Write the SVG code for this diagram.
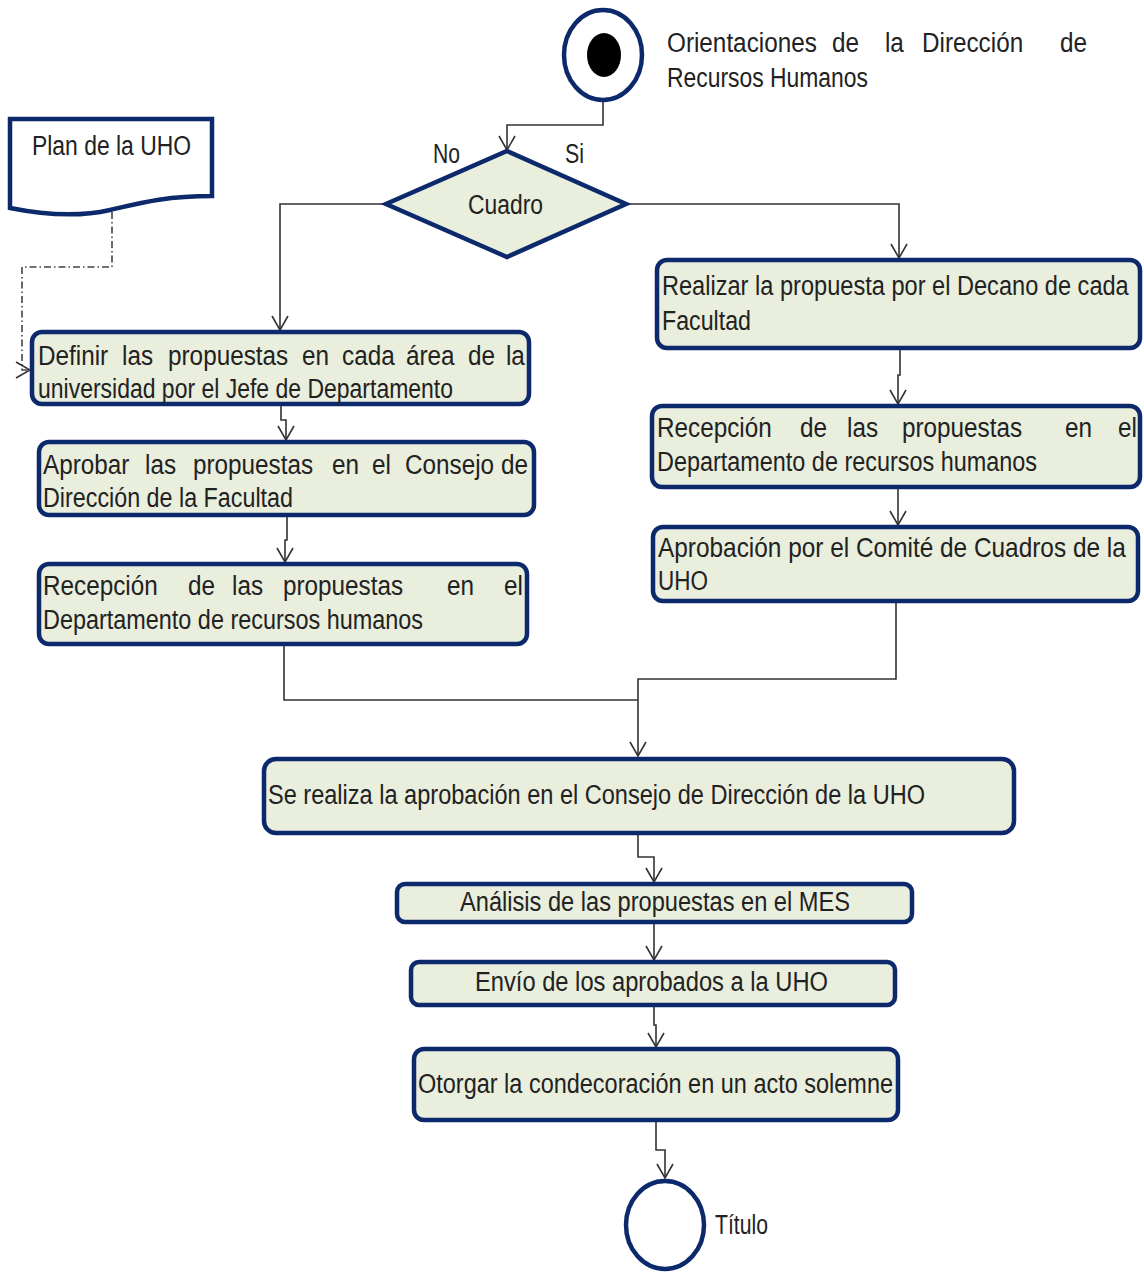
<svg xmlns="http://www.w3.org/2000/svg" width="1144" height="1272" viewBox="0 0 1144 1272">
<defs>
<style>
.box{fill:#e9eedd;stroke:#0c2a6b;stroke-width:4.5}
.term{fill:#ffffff;stroke:#0c2a6b;stroke-width:4.5}
.t{font-family:"Liberation Sans",Arial,sans-serif;font-size:27px;fill:#222222}
.c{fill:none;stroke:#333333;stroke-width:1.6}
.dd{fill:none;stroke:#444444;stroke-width:1.6;stroke-dasharray:7 3 1.5 3}
</style>
<marker id="arr" markerUnits="userSpaceOnUse" viewBox="0 0 16 18" markerWidth="16" markerHeight="18" refX="15" refY="9" orient="auto">
<path d="M1,1 L15,9 L1,17" fill="none" stroke="#333333" stroke-width="1.6"/>
</marker>
</defs>
<rect width="1144" height="1272" fill="#ffffff"/>

<g id="connectors">
<path class="c" d="M603,102 V125 H507 V150" marker-end="url(#arr)"/>
<path class="c" d="M386,204 H280 V330" marker-end="url(#arr)"/>
<path class="c" d="M626,204 H899 V258" marker-end="url(#arr)"/>
<path class="c" d="M281,406 V420 H286 V440" marker-end="url(#arr)"/>
<path class="c" d="M287,517 V540 H285 V562" marker-end="url(#arr)"/>
<path class="c" d="M900,349 V375 H898 V404" marker-end="url(#arr)"/>
<path class="c" d="M898,488 V525" marker-end="url(#arr)"/>
<path class="c" d="M896,602 V679 H638 V756" marker-end="url(#arr)"/>
<path class="c" d="M284,645 V700 H638"/>
<path class="c" d="M638,834 V857 H654 V882" marker-end="url(#arr)"/>
<path class="c" d="M654,923 V960" marker-end="url(#arr)"/>
<path class="c" d="M654,1006 V1025 H656 V1047" marker-end="url(#arr)"/>
<path class="c" d="M656,1121 V1150 H665 V1178" marker-end="url(#arr)"/>
<path class="dd" d="M112,212 V267 H22 V370 H30" marker-end="url(#arr)"/>
</g>

<g id="start">
<ellipse class="term" cx="603" cy="55" rx="39" ry="45"/>
<ellipse cx="604" cy="55" rx="17" ry="22" fill="#000000"/>
<text class="t" transform="scale(0.9 1)" y="52"><tspan x="741.1">Orientaciones</tspan><tspan x="924.4">de</tspan><tspan x="983.3">la</tspan><tspan x="1024.4">Dirección</tspan><tspan x="1177.8">de</tspan></text>
<text class="t" x="667" y="87" textLength="201" lengthAdjust="spacingAndGlyphs">Recursos Humanos</text>
</g>

<g id="plan">
<path class="term" d="M10,119 H212 V196 C165,196 140,203 110,210 C75,218 40,214 10,208 Z"/>
<text class="t" x="32" y="155" textLength="159" lengthAdjust="spacingAndGlyphs">Plan de la UHO</text>
</g>

<g id="cuadro">
<polygon class="box" points="507,151 626,204 507,257 386,204"/>
<text class="t" x="468" y="214" textLength="75" lengthAdjust="spacingAndGlyphs">Cuadro</text>
<text class="t" x="433" y="163" textLength="27" lengthAdjust="spacingAndGlyphs">No</text>
<text class="t" x="565" y="163" textLength="19" lengthAdjust="spacingAndGlyphs">Si</text>
</g>

<g id="definir">
<rect class="box" x="32" y="332" width="497" height="72" rx="10"/>
<text class="t" transform="scale(0.9 1)" y="365"><tspan x="42.2">Definir</tspan><tspan x="135.6">las</tspan><tspan x="186.7">propuestas</tspan><tspan x="335.6">en</tspan><tspan x="380.0">cada</tspan><tspan x="451.1">área</tspan><tspan x="520.0">de</tspan><tspan x="562.2">la</tspan></text>
<text class="t" x="38" y="398" textLength="415" lengthAdjust="spacingAndGlyphs">universidad por el Jefe de Departamento</text>
</g>

<g id="aprobar">
<rect class="box" x="39" y="442" width="495" height="73" rx="10"/>
<text class="t" transform="scale(0.9 1)" y="474"><tspan x="47.8">Aprobar</tspan><tspan x="161.1">las</tspan><tspan x="214.4">propuestas</tspan><tspan x="368.9">en</tspan><tspan x="413.3">el</tspan><tspan x="450.0">Consejo</tspan><tspan x="556.7">de</tspan></text>
<text class="t" x="43" y="507" textLength="250" lengthAdjust="spacingAndGlyphs">Dirección de la Facultad</text>
</g>

<g id="recepcion-izq">
<rect class="box" x="39" y="564" width="488" height="80" rx="10"/>
<text class="t" transform="scale(0.9 1)" y="595"><tspan x="47.8">Recepción</tspan><tspan x="208.9">de</tspan><tspan x="257.8">las</tspan><tspan x="314.4">propuestas</tspan><tspan x="496.7">en</tspan><tspan x="560.0">el</tspan></text>
<text class="t" x="43" y="629" textLength="380" lengthAdjust="spacingAndGlyphs">Departamento de recursos humanos</text>
</g>

<g id="realizar">
<rect class="box" x="657" y="260" width="483" height="88" rx="10"/>
<text class="t" transform="scale(0.874 1)" x="757.4" y="295">Realizar la propuesta por el Decano de cada</text>
<text class="t" x="662" y="330" textLength="89" lengthAdjust="spacingAndGlyphs">Facultad</text>
</g>

<g id="recepcion-der">
<rect class="box" x="652" y="406" width="488" height="81" rx="10"/>
<text class="t" transform="scale(0.9 1)" y="437"><tspan x="730.0">Recepción</tspan><tspan x="888.9">de</tspan><tspan x="941.1">las</tspan><tspan x="1002.2">propuestas</tspan><tspan x="1183.3">en</tspan><tspan x="1242.2">el</tspan></text>
<text class="t" x="657" y="471" textLength="380" lengthAdjust="spacingAndGlyphs">Departamento de recursos humanos</text>
</g>

<g id="aprobacion">
<rect class="box" x="653" y="527" width="485" height="74" rx="10"/>
<text class="t" transform="scale(0.904 1)" x="727.9" y="557">Aprobación por el Comité de Cuadros de la</text>
<text class="t" x="658" y="590" textLength="50" lengthAdjust="spacingAndGlyphs">UHO</text>
</g>

<g id="consejo">
<rect class="box" x="264" y="759" width="750" height="74" rx="12"/>
<text class="t" x="268" y="804" textLength="657" lengthAdjust="spacingAndGlyphs">Se realiza la aprobación en el Consejo de Dirección de la UHO</text>
</g>

<g id="analisis">
<rect class="box" x="397" y="884" width="515" height="38" rx="8"/>
<text class="t" x="460" y="911" textLength="390" lengthAdjust="spacingAndGlyphs">Análisis de las propuestas en el MES</text>
</g>

<g id="envio">
<rect class="box" x="411" y="962" width="484" height="43" rx="8"/>
<text class="t" x="475" y="991" textLength="353" lengthAdjust="spacingAndGlyphs">Envío de los aprobados a la UHO</text>
</g>

<g id="otorgar">
<rect class="box" x="414" y="1049" width="484" height="71" rx="10"/>
<text class="t" x="418" y="1093" textLength="475" lengthAdjust="spacingAndGlyphs">Otorgar la condecoración en un acto solemne</text>
</g>

<g id="fin">
<ellipse class="term" cx="665" cy="1225" rx="39" ry="44"/>
<text class="t" x="715" y="1234" textLength="53" lengthAdjust="spacingAndGlyphs">Título</text>
</g>
</svg>
